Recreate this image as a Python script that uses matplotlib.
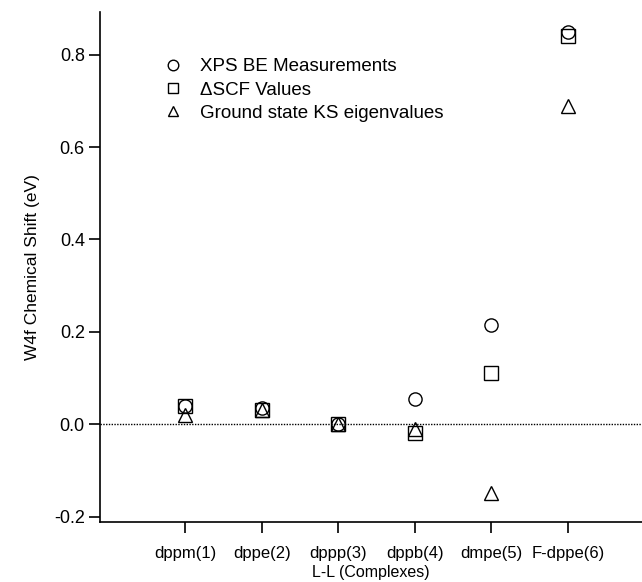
import matplotlib
matplotlib.use("Agg")
import matplotlib.pyplot as plt

plt.rcParams['font.family'] = ['Liberation Sans', 'DejaVu Sans']

categories = ["dppm(1)", "dppe(2)", "dppp(3)", "dppb(4)", "dmpe(5)", "F-dppe(6)"]
xps = [0.040, 0.035, 0.000, 0.055, 0.215, 0.850]
dscf = [0.040, 0.030, 0.000, -0.020, 0.110, 0.840]
ks = [0.020, 0.030, 0.000, -0.010, -0.150, 0.690]
yticks = [-0.2, 0.0, 0.2, 0.4, 0.6, 0.8]

fig = plt.figure(figsize=(6.42, 5.82), dpi=100)
ax = fig.add_axes([0.156, 0.103, 0.844, 0.876])
x = list(range(1, len(categories) + 1))

ax.axhline(0, color='black', lw=1.0, ls=(0, (1, 1)), zorder=1)
ax.plot(x, xps, ls='none', marker='o', ms=9.5, mfc='none', mec='black', mew=1.0,
        label='XPS BE Measurements', zorder=3)
ax.plot(x, dscf, ls='none', marker='s', ms=9.5, mfc='none', mec='black', mew=1.0,
        label='\u0394SCF Values', zorder=3)
ax.plot(x, ks, ls='none', marker='^', ms=9.5, mfc='none', mec='black', mew=1.0,
        label='Ground state KS eigenvalues', zorder=3)

ax.set_xlim(-0.11, 6.97)
ax.set_ylim(-0.212, 0.892)
ax.set_xticks(x)
ax.set_xticklabels(categories, fontsize=12)
ax.set_yticks(yticks)
ax.set_yticklabels([f"{v:.1f}" for v in yticks], fontsize=13)
ax.tick_params(axis='both', direction='out', length=8, width=1.2, colors='black')
ax.tick_params(axis='y', pad=3)
ax.tick_params(axis='x', pad=9)
for s in ['top', 'right']:
    ax.spines[s].set_visible(False)
for s in ['left', 'bottom']:
    ax.spines[s].set_linewidth(1.2)

ax.set_ylabel('W4f Chemical Shift (eV)', fontsize=12.5, labelpad=10)
ax.set_xlabel('L-L (Complexes)', fontsize=11.5, labelpad=3)

ax.legend(loc='upper left', bbox_to_anchor=(0.101, 0.91), frameon=False,
          fontsize=13.5, handletextpad=0.5, labelspacing=0.33, borderaxespad=0,
          borderpad=0, markerscale=0.8, handlelength=1.9)

fig.savefig('out.png', dpi=100)
